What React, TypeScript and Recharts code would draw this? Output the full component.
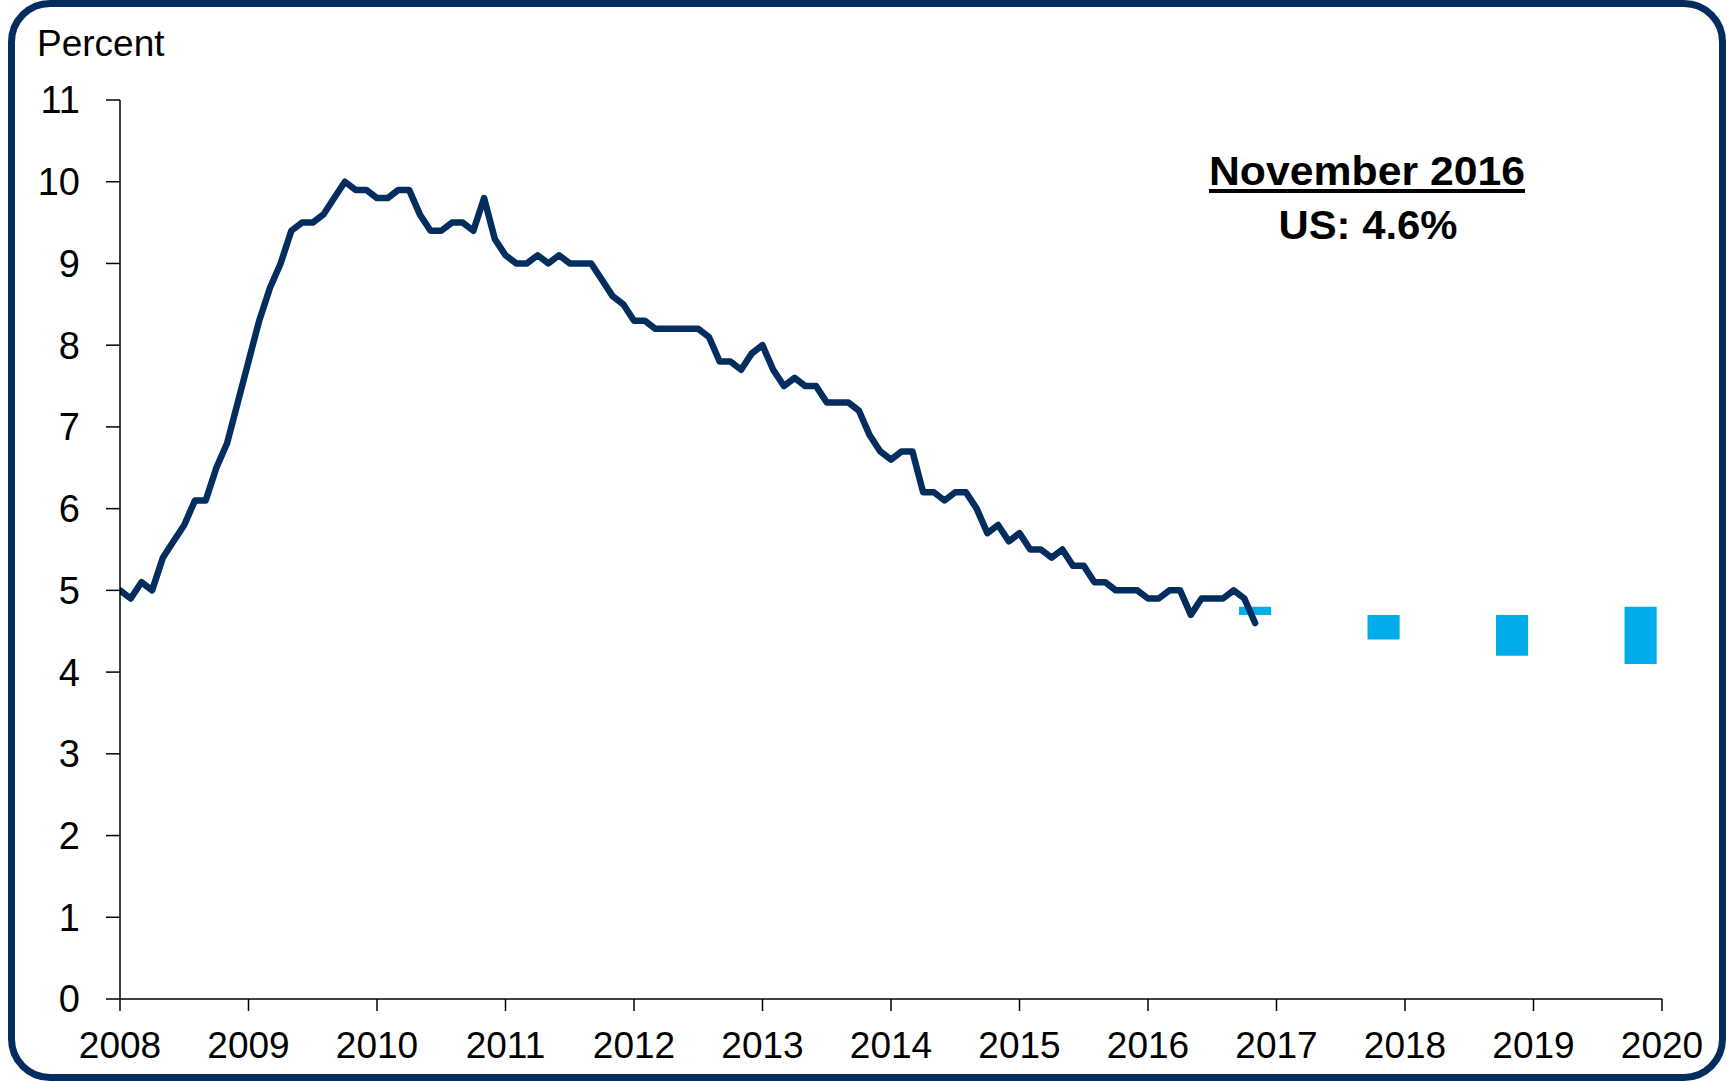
import React from 'react';
import {
  ComposedChart, Line, XAxis, YAxis, ReferenceArea,
} from 'recharts';

// monthly unemployment rate, Jan 2008 .. Nov 2016
const startYear = 2008;
const rate2008 = [5.0, 4.9, 5.1, 5.0, 5.4, 5.6, 5.8, 6.1, 6.1, 6.5, 6.8, 7.3];
const rate2009 = [7.8, 8.3, 8.7, 9.0, 9.4, 9.5, 9.5, 9.6, 9.8, 10.0, 9.9, 9.9];
const rate2010 = [9.8, 9.8, 9.9, 9.9, 9.6, 9.4, 9.4, 9.5, 9.5, 9.4, 9.8, 9.3];
const rate2011 = [9.1, 9.0, 9.0, 9.1, 9.0, 9.1, 9.0, 9.0, 9.0, 8.8, 8.6, 8.5];
const rate2012 = [8.3, 8.3, 8.2, 8.2, 8.2, 8.2, 8.2, 8.1, 7.8, 7.8, 7.7, 7.9];
const rate2013 = [8.0, 7.7, 7.5, 7.6, 7.5, 7.5, 7.3, 7.3, 7.3, 7.2, 6.9, 6.7];
const rate2014 = [6.6, 6.7, 6.7, 6.2, 6.2, 6.1, 6.2, 6.2, 6.0, 5.7, 5.8, 5.6];
const rate2015 = [5.7, 5.5, 5.5, 5.4, 5.5, 5.3, 5.3, 5.1, 5.1, 5.0, 5.0, 5.0];
const rate2016 = [4.9, 4.9, 5.0, 5.0, 4.7, 4.9, 4.9, 4.9, 5.0, 4.9, 4.6];

// projection ranges (Q4 of each year)
const projYears = [2016, 2017, 2018, 2019];
const projLow = [4.7, 4.4, 4.2, 4.1];
const projHigh = [4.8, 4.7, 4.7, 4.8];

const yearTicks = [2008, 2009, 2010, 2011, 2012, 2013, 2014, 2015, 2016, 2017, 2018, 2019, 2020];
const yTicks = [0, 1, 2, 3, 4, 5, 6, 7, 8, 9, 10, 11];

const monthly = [
  ...rate2008, ...rate2009, ...rate2010, ...rate2011, ...rate2012,
  ...rate2013, ...rate2014, ...rate2015, ...rate2016,
];
const lineData = monthly.map((v, i) => ({ x: startYear + i / 12, rate: v }));

const projBars = projYears.map((y, i) => ({
  x1: y + 10 / 12 - 0.125,
  x2: y + 10 / 12 + 0.125,
  lo: projLow[i],
  hi: projHigh[i],
}));

const NAVY = '#022d5e';
const BLUE = '#00ade8';
const FONT = '"Liberation Sans", Arial, sans-serif';

export default function App() {
  return (
    <div style={{ position: 'absolute', left: 0, top: 0, width: 1727, height: 1081, background: '#fff', fontFamily: FONT }}>
      <div
        style={{
          position: 'absolute', left: 8, top: 0, width: 1718, height: 1081,
          border: `7px solid ${NAVY}`, borderRadius: 42, boxSizing: 'border-box',
        }}
      />
      <div style={{ position: 'absolute', left: 0, top: 0 }}>
        <ComposedChart
          width={1727}
          height={1081}
          data={lineData}
          margin={{ top: 100, right: 65, bottom: 22, left: 20 }}
        >
          <XAxis
            dataKey="x"
            type="number"
            domain={[2008, 2020]}
            ticks={yearTicks}
            allowDataOverflow
            height={60}
            tickSize={12}
            tickMargin={21}
            axisLine={{ stroke: '#000', strokeWidth: 1.5 }}
            tickLine={{ stroke: '#000', strokeWidth: 1.5 }}
            tick={{ fill: '#000', fontSize: 37, fontFamily: FONT }}
          />
          <YAxis
            type="number"
            domain={[0, 11]}
            ticks={yTicks}
            width={100}
            tickSize={14}
            tickMargin={26}
            axisLine={{ stroke: '#000', strokeWidth: 1.5 }}
            tickLine={{ stroke: '#000', strokeWidth: 1.5 }}
            tick={{ fill: '#000', fontSize: 38, fontFamily: FONT }}
          />
          {projBars.map((b, i) => (
            <ReferenceArea
              key={i}
              x1={b.x1}
              x2={b.x2}
              y1={b.lo}
              y2={b.hi}
              fill={BLUE}
              fillOpacity={1}
              stroke="none"
            />
          ))}
          <Line
            type="linear"
            dataKey="rate"
            stroke={NAVY}
            strokeWidth={6.5}
            strokeLinejoin="round"
            strokeLinecap="round"
            dot={false}
            activeDot={false}
            isAnimationActive={false}
          />
        </ComposedChart>
      </div>
      <svg width={1727} height={1081} style={{ position: 'absolute', left: 0, top: 0, pointerEvents: 'none' }}>
        <text x={37} y={56} fontSize={37} fontFamily={FONT} fill="#000">Percent</text>
        <text
          x={1367} y={185} textAnchor="middle" fontSize={41} fontWeight="bold"
          fontFamily={FONT} fill="#000" textLength={316} lengthAdjust="spacingAndGlyphs"
        >
          November 2016
        </text>
        <line x1={1209} x2={1525} y1={191} y2={191} stroke="#000" strokeWidth={4} />
        <text
          x={1368} y={239} textAnchor="middle" fontSize={41} fontWeight="bold"
          fontFamily={FONT} fill="#000" textLength={179} lengthAdjust="spacingAndGlyphs"
        >
          US: 4.6%
        </text>
      </svg>
    </div>
  );
}
